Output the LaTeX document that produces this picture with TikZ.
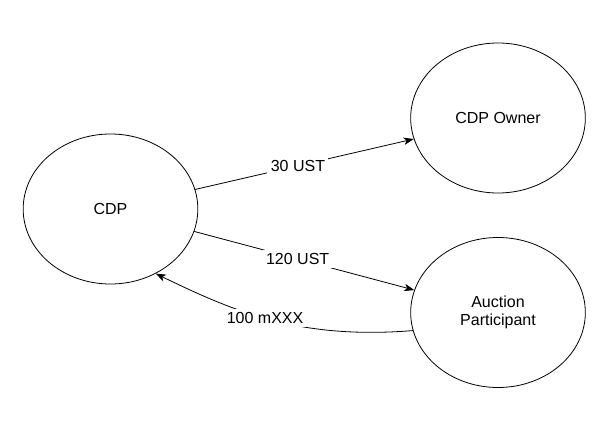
\documentclass[tikz,border=0pt]{standalone}
\usepackage{fontspec}
\setmainfont{Liberation Sans}
\usetikzlibrary{positioning}
\usetikzlibrary{shapes.geometric}
\usetikzlibrary{arrows.meta}
\tikzset{
    flow diagram/.style={
            x=0.75pt,y=-0.75pt,line width=0.6pt,
            font=\fontsize{12}{13.5}\selectfont,
            party/.style={draw,ellipse,inner sep=0pt,minimum width=131pt,minimum height=112.5pt,align=center},
            arrow/.style={-{Stealth[length=7.5pt,width=5.5pt,inset=2pt]}},
            amount/.style={fill=white,inner sep=2.5pt}
        }
    }

\begin{document}
\begin{tikzpicture}[flow diagram]
    \useasboundingbox (0,0) rectangle (613,425);
    \node [party] (cdp) at (110.5,209) {CDP};
    \node [party] (owner) at (498,118) {CDP Owner};
    \node [party] (bidder) at (498,312.5) {Auction\\Participant};
    \draw [arrow] (cdp.13) -- (owner.194) node [amount,pos=0.47] {30 UST};
    \draw [arrow] (cdp.-15) -- (bidder.165) node [amount,pos=0.47] {120 UST};
    \draw [arrow] (bidder.192) .. controls +(-112,9) and +(80,39) .. (cdp.-55) node [amount,pos=0.53] {100 mXXX};
\end{tikzpicture}
\end{document}
